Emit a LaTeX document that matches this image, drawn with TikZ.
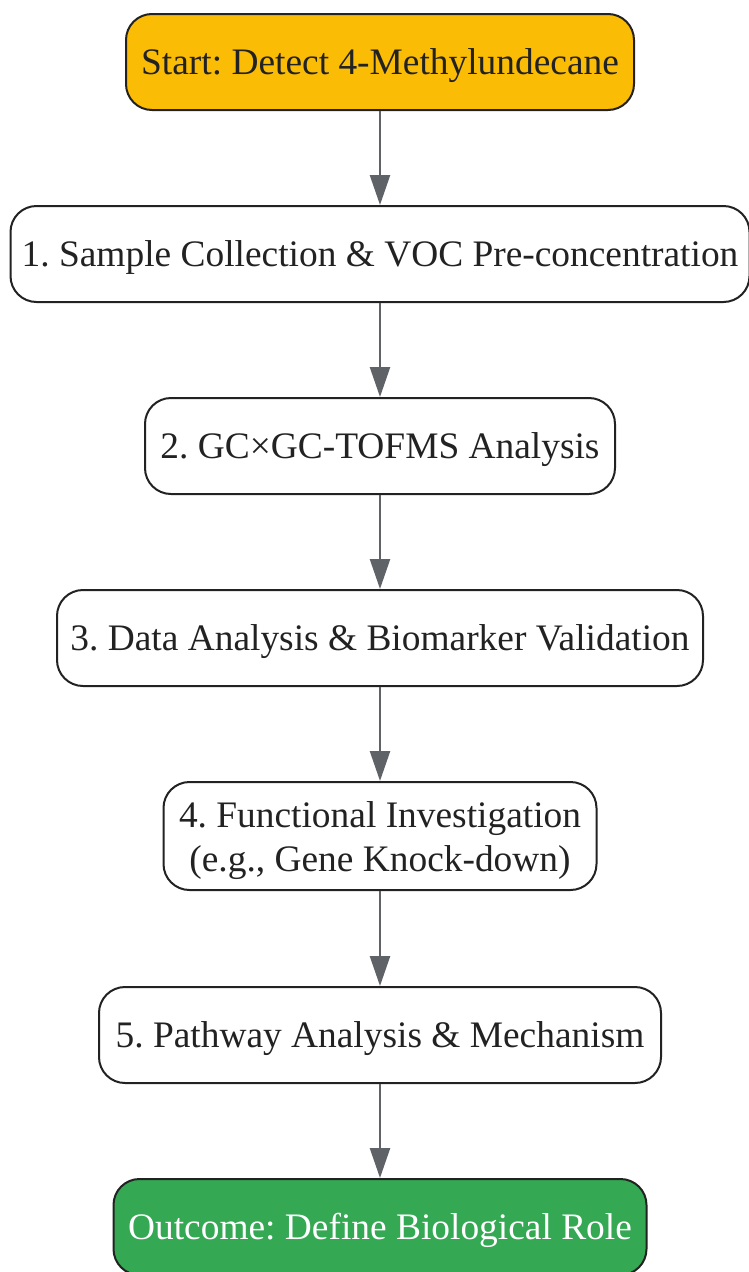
\documentclass[tikz,border=0pt]{standalone}
\usepackage{fontspec}
\setmainfont{Liberation Serif}
\frenchspacing
\usetikzlibrary{arrows.meta}
\definecolor{startc}{HTML}{FBBC05}
\definecolor{endc}{HTML}{34A853}
\definecolor{edgec}{HTML}{222222}
\definecolor{arrc}{HTML}{5F6368}
\definecolor{txtc}{HTML}{222222}
\begin{document}
\begin{tikzpicture}[x=1pt,y=1pt,
  box/.style={draw=edgec, line width=2pt, rounded corners=26pt, fill=white,
    text=txtc, align=center, inner sep=0pt, minimum height=96pt,
    text height=30pt, text depth=5pt,
    font=\frenchspacing\fontsize{37.4}{43.5}\selectfont},
  conn/.style={draw=arrc, line width=2.5pt, -{Triangle[width=20pt,length=30pt]}}]
\useasboundingbox (0,0) rectangle (749,-1272);
\node[box, fill=startc, minimum width=508pt] (s) at (380,-62) {Start: Detect 4-Methylundecane};
\node[box, minimum width=739pt] (n1) at (380,-254) {1. Sample Collection \& VOC Pre-concentration};
\node[box, minimum width=470pt] (n2) at (380,-446) {2. GC×GC-TOFMS Analysis};
\node[box, minimum width=646pt] (n3) at (380,-638) {3. Data Analysis \& Biomarker Validation};
\node[box, minimum width=433pt, minimum height=108pt, text height=74pt, text depth=4pt] (n4) at (380,-836) {4. Functional Investigation\\(e.g., Gene Knock-down)};
\node[box, minimum width=562pt] (n5) at (380,-1035) {5. Pathway Analysis \& Mechanism};
\node[box, fill=endc, text=white, minimum width=533pt] (o) at (380,-1227) {Outcome: Define Biological Role};
\draw[conn] (s) -- (n1);
\draw[conn] (n1) -- (n2);
\draw[conn] (n2) -- (n3);
\draw[conn] (n3) -- (n4);
\draw[conn] (n4) -- (n5);
\draw[conn] (n5) -- (o);
\end{tikzpicture}
\end{document}
